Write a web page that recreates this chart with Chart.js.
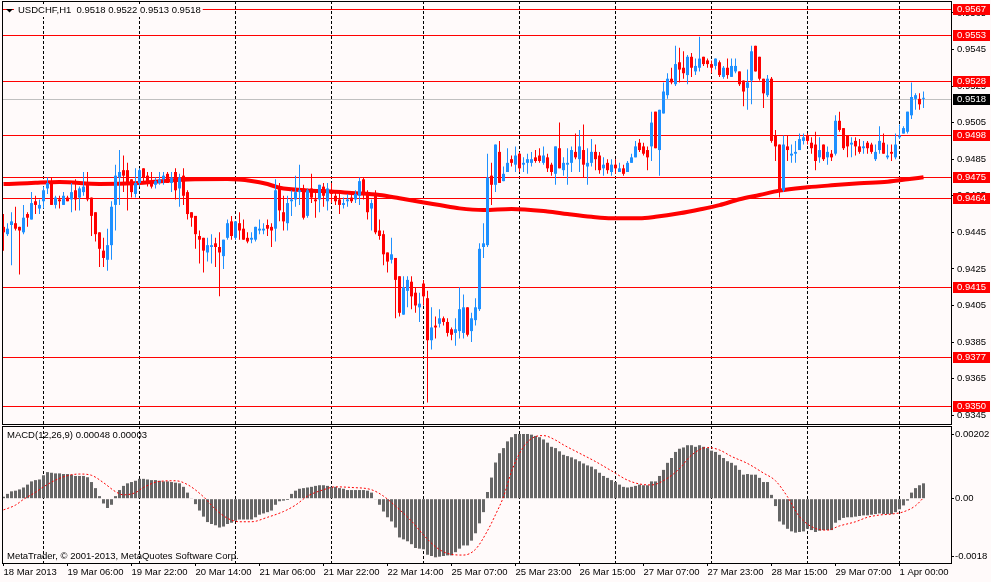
<!DOCTYPE html>
<html>
<head>
<meta charset="utf-8">
<title>USDCHF,H1</title>
<script src="https://cdn.jsdelivr.net/npm/chart.js@4.4.1/dist/chart.umd.min.js"></script>
<style>
  html, body { margin: 0; padding: 0; background: #fffafa; overflow: hidden; }
  #price { position: absolute; left: 0; top: 0; }
  #macd { position: absolute; left: 0; top: 425px; }
</style>
</head>
<body>
<canvas id="price" width="991" height="425"></canvas>
<canvas id="macd" width="991" height="157"></canvas>
<script>
// USDCHF H1, 18 Mar 2013 14:00 .. 1 Apr 06:00, 231 bars

const open = [
  0.9448, 0.9444, 0.9449, 0.9450, 0.9448, 0.9445, 0.9455, 0.9452, 0.9462, 0.9458,
  0.9462, 0.9469, 0.9472, 0.9460, 0.9463, 0.9460, 0.9464, 0.9463, 0.9468, 0.9464,
  0.9467, 0.9472, 0.9464, 0.9456, 0.9445, 0.9435, 0.9430, 0.9438, 0.9460, 0.9475,
  0.9479, 0.9479, 0.9474, 0.9466, 0.9472, 0.9480, 0.9476, 0.9472, 0.9471, 0.9472,
  0.9474, 0.9477, 0.9472, 0.9478, 0.9469, 0.9476, 0.9467, 0.9456, 0.9454, 0.9443,
  0.9442, 0.9434, 0.9437, 0.9439, 0.9437, 0.9432, 0.9442, 0.9451, 0.9442, 0.9450,
  0.9447, 0.9442, 0.9441, 0.9441, 0.9446, 0.9446, 0.9449, 0.9448, 0.9447, 0.9470,
  0.9456, 0.9450, 0.9462, 0.9463, 0.9467, 0.9469, 0.9454, 0.9469, 0.9463, 0.9463,
  0.9470, 0.9462, 0.9468, 0.9465, 0.9463, 0.9460, 0.9462, 0.9464, 0.9463, 0.9465,
  0.9474, 0.9466, 0.9458, 0.9466, 0.9446, 0.9444, 0.9434, 0.9430, 0.9431, 0.9421,
  0.9400, 0.9413, 0.9418, 0.9412, 0.9404, 0.9417, 0.9409, 0.9386, 0.9394, 0.9395,
  0.9398, 0.9396, 0.9392, 0.9390, 0.9391, 0.9390, 0.9404, 0.9391, 0.9397, 0.9403,
  0.9437, 0.9438, 0.9476, 0.9471, 0.9489, 0.9473, 0.9478, 0.9485, 0.9482, 0.9488,
  0.9482, 0.9483, 0.9483, 0.9486, 0.9487, 0.9483, 0.9486, 0.9482, 0.9477, 0.9491,
  0.9479, 0.9482, 0.9483, 0.9489, 0.9485, 0.9490, 0.9481, 0.9483, 0.9489, 0.9487,
  0.9480, 0.9483, 0.9478, 0.9482, 0.9478, 0.9480, 0.9478, 0.9483, 0.9486, 0.9494,
  0.9492, 0.9490, 0.9492, 0.9511, 0.9490, 0.9510, 0.9520, 0.9529, 0.9526, 0.9538,
  0.9535, 0.9531, 0.9541, 0.9533, 0.9535, 0.9541, 0.9539, 0.9537, 0.9536, 0.9538,
  0.9530, 0.9535, 0.9530, 0.9533, 0.9533, 0.9528, 0.9524, 0.9528, 0.9547, 0.9541,
  0.9529, 0.9520, 0.9529, 0.9498, 0.9493, 0.9468, 0.9492, 0.9487, 0.9488, 0.9490,
  0.9495, 0.9498, 0.9494, 0.9493, 0.9486, 0.9493, 0.9486, 0.9488, 0.9488, 0.9506,
  0.9502, 0.9498, 0.9493, 0.9495, 0.9492, 0.9491, 0.9494, 0.9493, 0.9485, 0.9490,
  0.9494, 0.9486, 0.9489, 0.9486, 0.9497, 0.9499, 0.9500, 0.9509, 0.9518, 0.9518,
  0.9518
];
const high = [
  0.9455, 0.9450, 0.9456, 0.9459, 0.9448, 0.9460, 0.9456, 0.9467, 0.9465, 0.9463,
  0.9470, 0.9475, 0.9475, 0.9465, 0.9465, 0.9467, 0.9465, 0.9472, 0.9474, 0.9470,
  0.9478, 0.9478, 0.9464, 0.9456, 0.9445, 0.9442, 0.9447, 0.9462, 0.9482, 0.9490,
  0.9487, 0.9483, 0.9474, 0.9480, 0.9480, 0.9480, 0.9478, 0.9478, 0.9475, 0.9478,
  0.9478, 0.9478, 0.9478, 0.9480, 0.9477, 0.9480, 0.9468, 0.9456, 0.9454, 0.9446,
  0.9442, 0.9442, 0.9444, 0.9442, 0.9445, 0.9441, 0.9452, 0.9454, 0.9451, 0.9456,
  0.9452, 0.9445, 0.9445, 0.9448, 0.9452, 0.9450, 0.9452, 0.9450, 0.9474, 0.9472,
  0.9465, 0.9465, 0.9468, 0.9476, 0.9482, 0.9471, 0.9469, 0.9477, 0.9468, 0.9471,
  0.9472, 0.9472, 0.9472, 0.9468, 0.9466, 0.9464, 0.9466, 0.9466, 0.9468, 0.9475,
  0.9475, 0.9468, 0.9463, 0.9468, 0.9452, 0.9446, 0.9434, 0.9442, 0.9431, 0.9421,
  0.9421, 0.9421, 0.9421, 0.9415, 0.9412, 0.9419, 0.9413, 0.9404, 0.9399, 0.9403,
  0.9399, 0.9398, 0.9393, 0.9398, 0.9415, 0.9411, 0.9404, 0.9401, 0.9409, 0.9439,
  0.9450, 0.9488, 0.9483, 0.9493, 0.9495, 0.9481, 0.9491, 0.9487, 0.9492, 0.9489,
  0.9486, 0.9488, 0.9489, 0.9490, 0.9491, 0.9492, 0.9488, 0.9483, 0.9492, 0.9505,
  0.9486, 0.9491, 0.9492, 0.9499, 0.9501, 0.9504, 0.9491, 0.9496, 0.9493, 0.9489,
  0.9486, 0.9485, 0.9485, 0.9485, 0.9483, 0.9482, 0.9484, 0.9488, 0.9495, 0.9496,
  0.9494, 0.9492, 0.9511, 0.9511, 0.9512, 0.9527, 0.9532, 0.9535, 0.9547, 0.9546,
  0.9544, 0.9542, 0.9543, 0.9540, 0.9552, 0.9541, 0.9540, 0.9539, 0.9540, 0.9539,
  0.9536, 0.9540, 0.9540, 0.9540, 0.9533, 0.9528, 0.9534, 0.9547, 0.9547, 0.9541,
  0.9529, 0.9531, 0.9530, 0.9501, 0.9493, 0.9498, 0.9498, 0.9493, 0.9495, 0.9499,
  0.9499, 0.9499, 0.9497, 0.9500, 0.9497, 0.9493, 0.9492, 0.9490, 0.9509, 0.9511,
  0.9502, 0.9498, 0.9497, 0.9497, 0.9496, 0.9495, 0.9495, 0.9494, 0.9493, 0.9503,
  0.9499, 0.9493, 0.9493, 0.9499, 0.9504, 0.9503, 0.9511, 0.9527, 0.9521, 0.9521,
  0.9522
];
const low = [
  0.9435, 0.9443, 0.9427, 0.9446, 0.9422, 0.9444, 0.9448, 0.9452, 0.9455, 0.9455,
  0.9458, 0.9466, 0.9460, 0.9458, 0.9458, 0.9460, 0.9462, 0.9456, 0.9457, 0.9457,
  0.9465, 0.9462, 0.9443, 0.9440, 0.9426, 0.9426, 0.9424, 0.9430, 0.9446, 0.9460,
  0.9467, 0.9457, 0.9464, 0.9464, 0.9470, 0.9472, 0.9470, 0.9469, 0.9469, 0.9471,
  0.9471, 0.9472, 0.9467, 0.9463, 0.9459, 0.9460, 0.9452, 0.9448, 0.9436, 0.9428,
  0.9423, 0.9429, 0.9428, 0.9426, 0.9410, 0.9425, 0.9441, 0.9441, 0.9441, 0.9441,
  0.9441, 0.9439, 0.9439, 0.9440, 0.9444, 0.9444, 0.9443, 0.9437, 0.9440, 0.9451,
  0.9446, 0.9446, 0.9454, 0.9459, 0.9460, 0.9452, 0.9453, 0.9461, 0.9453, 0.9456,
  0.9459, 0.9457, 0.9461, 0.9460, 0.9455, 0.9458, 0.9459, 0.9461, 0.9461, 0.9460,
  0.9463, 0.9452, 0.9446, 0.9444, 0.9441, 0.9427, 0.9423, 0.9428, 0.9398, 0.9399,
  0.9400, 0.9404, 0.9403, 0.9401, 0.9396, 0.9405, 0.9352, 0.9381, 0.9387, 0.9393,
  0.9394, 0.9388, 0.9386, 0.9383, 0.9387, 0.9387, 0.9388, 0.9385, 0.9394, 0.9402,
  0.9431, 0.9437, 0.9460, 0.9467, 0.9472, 0.9473, 0.9478, 0.9481, 0.9478, 0.9478,
  0.9478, 0.9477, 0.9481, 0.9483, 0.9483, 0.9482, 0.9478, 0.9476, 0.9471, 0.9480,
  0.9476, 0.9471, 0.9478, 0.9485, 0.9478, 0.9475, 0.9471, 0.9481, 0.9479, 0.9477,
  0.9476, 0.9477, 0.9476, 0.9477, 0.9478, 0.9476, 0.9478, 0.9483, 0.9486, 0.9489,
  0.9487, 0.9479, 0.9484, 0.9491, 0.9476, 0.9510, 0.9518, 0.9526, 0.9525, 0.9527,
  0.9529, 0.9526, 0.9530, 0.9531, 0.9533, 0.9536, 0.9535, 0.9532, 0.9534, 0.9530,
  0.9529, 0.9529, 0.9530, 0.9532, 0.9525, 0.9514, 0.9512, 0.9515, 0.9533, 0.9528,
  0.9513, 0.9519, 0.9494, 0.9484, 0.9464, 0.9467, 0.9484, 0.9483, 0.9483, 0.9490,
  0.9493, 0.9493, 0.9488, 0.9479, 0.9483, 0.9484, 0.9482, 0.9484, 0.9487, 0.9500,
  0.9490, 0.9486, 0.9486, 0.9487, 0.9488, 0.9488, 0.9488, 0.9488, 0.9484, 0.9488,
  0.9488, 0.9485, 0.9484, 0.9485, 0.9496, 0.9499, 0.9499, 0.9507, 0.9512, 0.9512,
  0.9513
];
const close = [
  0.9445, 0.9447, 0.9451, 0.9447, 0.9446, 0.9453, 0.9453, 0.9461, 0.9460, 0.9460,
  0.9468, 0.9472, 0.9460, 0.9464, 0.9462, 0.9465, 0.9462, 0.9467, 0.9463, 0.9469,
  0.9470, 0.9463, 0.9454, 0.9444, 0.9436, 0.9431, 0.9438, 0.9459, 0.9476, 0.9478,
  0.9476, 0.9472, 0.9467, 0.9472, 0.9479, 0.9475, 0.9472, 0.9470, 0.9473, 0.9474,
  0.9476, 0.9472, 0.9475, 0.9468, 0.9475, 0.9465, 0.9455, 0.9453, 0.9444, 0.9441,
  0.9435, 0.9438, 0.9438, 0.9437, 0.9434, 0.9441, 0.9450, 0.9443, 0.9451, 0.9446,
  0.9441, 0.9440, 0.9442, 0.9448, 0.9447, 0.9447, 0.9447, 0.9446, 0.9468, 0.9457,
  0.9451, 0.9461, 0.9463, 0.9467, 0.9468, 0.9453, 0.9468, 0.9464, 0.9462, 0.9471,
  0.9465, 0.9469, 0.9466, 0.9462, 0.9460, 0.9461, 0.9463, 0.9462, 0.9466, 0.9473,
  0.9466, 0.9456, 0.9461, 0.9445, 0.9443, 0.9433, 0.9429, 0.9433, 0.9419, 0.9401,
  0.9415, 0.9419, 0.9410, 0.9405, 0.9406, 0.9410, 0.9386, 0.9393, 0.9393, 0.9398,
  0.9396, 0.9390, 0.9389, 0.9392, 0.9403, 0.9404, 0.9389, 0.9398, 0.9404, 0.9436,
  0.9439, 0.9475, 0.9471, 0.9493, 0.9472, 0.9477, 0.9483, 0.9483, 0.9487, 0.9480,
  0.9483, 0.9485, 0.9485, 0.9484, 0.9484, 0.9487, 0.9480, 0.9478, 0.9492, 0.9480,
  0.9483, 0.9483, 0.9490, 0.9486, 0.9492, 0.9482, 0.9483, 0.9489, 0.9485, 0.9479,
  0.9482, 0.9479, 0.9482, 0.9480, 0.9480, 0.9477, 0.9483, 0.9486, 0.9492, 0.9490,
  0.9488, 0.9486, 0.9505, 0.9491, 0.9512, 0.9522, 0.9529, 0.9527, 0.9537, 0.9534,
  0.9532, 0.9541, 0.9535, 0.9536, 0.9540, 0.9537, 0.9537, 0.9535, 0.9540, 0.9531,
  0.9535, 0.9531, 0.9536, 0.9536, 0.9526, 0.9522, 0.9527, 0.9544, 0.9533, 0.9529,
  0.9521, 0.9529, 0.9495, 0.9492, 0.9468, 0.9493, 0.9490, 0.9488, 0.9489, 0.9496,
  0.9497, 0.9495, 0.9491, 0.9484, 0.9490, 0.9485, 0.9489, 0.9486, 0.9506, 0.9501,
  0.9491, 0.9492, 0.9494, 0.9492, 0.9489, 0.9492, 0.9491, 0.9489, 0.9489, 0.9495,
  0.9488, 0.9487, 0.9488, 0.9493, 0.9498, 0.9502, 0.9511, 0.9519, 0.9520, 0.9515,
  0.9518
];

// moving average, read at a few bars (bar index -> price)
const maIdx = [0, 4, 8, 14, 24, 34, 46, 56, 62, 66, 69, 76, 82, 87, 94, 99, 104, 109, 114, 120,
  127, 136, 141, 147, 152, 159, 163, 169, 174, 179, 184, 189, 194, 201, 207, 214, 221, 226, 230];
const maVal = [0.94714, 0.94717, 0.94721, 0.94725, 0.94715, 0.94720, 0.94739, 0.94741, 0.94731, 0.94714,
  0.94694, 0.94679, 0.94673, 0.94665, 0.94654, 0.94636, 0.94617, 0.94599, 0.94581, 0.94572,
  0.94578, 0.94564, 0.94550, 0.94535, 0.94527, 0.94527, 0.94535, 0.94554, 0.94575, 0.94599,
  0.94631, 0.94654, 0.94678, 0.94696, 0.94707, 0.94718, 0.94727, 0.94740, 0.94751];

// MACD(12,26,9) main line, one value per bar
const macdMain = [
  0.00006, 0.00015, 0.00023, 0.00025, 0.00029, 0.00035, 0.00044, 0.00054, 0.00058, 0.00060,
  0.00073, 0.00083, 0.00081, 0.00079, 0.00079, 0.00077, 0.00077, 0.00075, 0.00071, 0.00071,
  0.00071, 0.00067, 0.00052, 0.00033, 0.00008, -0.00015, -0.00029, -0.00019, 0.00008, 0.00027,
  0.00040, 0.00048, 0.00052, 0.00056, 0.00062, 0.00062, 0.00060, 0.00058, 0.00058, 0.00056,
  0.00054, 0.00054, 0.00052, 0.00050, 0.00048, 0.00037, 0.00019, 0.00002, -0.00017, -0.00037,
  -0.00056, -0.00073, -0.00079, -0.00083, -0.00090, -0.00087, -0.00079, -0.00075, -0.00069, -0.00065,
  -0.00065, -0.00065, -0.00065, -0.00058, -0.00050, -0.00046, -0.00042, -0.00037, -0.00019, -0.00008,
  -0.00006, -0.00004, 0.00015, 0.00025, 0.00031, 0.00033, 0.00035, 0.00037, 0.00040, 0.00042,
  0.00042, 0.00040, 0.00037, 0.00037, 0.00033, 0.00031, 0.00027, 0.00027, 0.00027, 0.00027,
  0.00027, 0.00025, 0.00019, -0.00002, -0.00019, -0.00040, -0.00058, -0.00071, -0.00090, -0.00121,
  -0.00127, -0.00133, -0.00142, -0.00154, -0.00156, -0.00158, -0.00175, -0.00179, -0.00183, -0.00181,
  -0.00179, -0.00177, -0.00177, -0.00167, -0.00156, -0.00146, -0.00146, -0.00131, -0.00108, -0.00077,
  -0.00042, 0.00021, 0.00066, 0.00113, 0.00142, 0.00158, 0.00179, 0.00192, 0.00202, 0.00202,
  0.00202, 0.00202, 0.00200, 0.00196, 0.00192, 0.00185, 0.00175, 0.00162, 0.00158, 0.00148,
  0.00137, 0.00133, 0.00129, 0.00123, 0.00117, 0.00110, 0.00104, 0.00100, 0.00092, 0.00081,
  0.00071, 0.00065, 0.00058, 0.00052, 0.00044, 0.00037, 0.00035, 0.00037, 0.00040, 0.00044,
  0.00042, 0.00042, 0.00054, 0.00054, 0.00071, 0.00090, 0.00112, 0.00127, 0.00146, 0.00156,
  0.00160, 0.00167, 0.00167, 0.00162, 0.00167, 0.00162, 0.00158, 0.00150, 0.00146, 0.00137,
  0.00127, 0.00117, 0.00112, 0.00104, 0.00090, 0.00075, 0.00077, 0.00075, 0.00075, 0.00065,
  0.00052, 0.00052, 0.00012, -0.00023, -0.00071, -0.00081, -0.00094, -0.00102, -0.00106, -0.00104,
  -0.00102, -0.00094, -0.00098, -0.00104, -0.00100, -0.00098, -0.00098, -0.00098, -0.00075, -0.00067,
  -0.00060, -0.00058, -0.00058, -0.00056, -0.00054, -0.00052, -0.00052, -0.00050, -0.00048, -0.00046,
  -0.00048, -0.00048, -0.00048, -0.00042, -0.00033, -0.00021, -0.00006, 0.00019, 0.00033, 0.00042,
  0.00048
];
// signal line, read at a few bars
const sigIdx = [0, 3, 5, 8, 10, 13, 16, 19, 22, 25, 28, 30, 33, 35, 39, 43, 46, 50, 53, 56,
  59, 62, 66, 70, 73, 76, 80, 83, 87, 92, 95, 98, 102, 105, 108, 111, 115, 118, 121, 123,
  125, 127, 130, 133, 135, 138, 140, 144, 148, 152, 156, 159, 162, 166, 169, 172, 176, 179, 182, 186,
  190, 193, 196, 199, 203, 206, 209, 213, 216, 219, 222, 225, 228, 230];
const sigVal = [-0.00035, -0.00020, -0.00002, 0.00020, 0.00037, 0.00058, 0.00072, 0.00077, 0.00073, 0.00050,
  0.00022, 0.00012, 0.00019, 0.00035, 0.00054, 0.00056, 0.00044, 0.00006, -0.00033, -0.00061,
  -0.00072, -0.00072, -0.00058, -0.00040, -0.00020, 0.00008, 0.00028, 0.00037, 0.00035, 0.00028,
  0.00008, -0.00023, -0.00070, -0.00113, -0.00150, -0.00171, -0.00176, -0.00158, -0.00100, -0.00050,
  0.00006, 0.00085, 0.00162, 0.00194, 0.00197, 0.00183, 0.00168, 0.00142, 0.00116, 0.00087,
  0.00058, 0.00046, 0.00043, 0.00064, 0.00094, 0.00136, 0.00160, 0.00152, 0.00132, 0.00110,
  0.00080, 0.00056, 0.00006, -0.00056, -0.00093, -0.00098, -0.00085, -0.00072, -0.00058, -0.00051,
  -0.00048, -0.00041, -0.00022, 0.00003];

// horizontal lines and the bid
const levels = [0.9567, 0.9553, 0.9528, 0.9498, 0.9475, 0.9464, 0.9415, 0.9377, 0.9350];
const bid = 0.9518;

// axes
const priceTicks = [0.9565, 0.9545, 0.9525, 0.9505, 0.9485, 0.9465, 0.9445, 0.9425, 0.9405, 0.9385, 0.9365, 0.9345];
const macdTicks = [0.00202, 0, -0.0018];
const macdTickLabels = ['0.00202', '0.00', '-0.0018'];
const timeTickIdx = [0, 16, 32, 48, 64, 80, 96, 112, 128, 144, 160, 176, 192, 208, 224];
const timeTickLabels = ['18 Mar 2013', '19 Mar 06:00', '19 Mar 22:00', '20 Mar 14:00', '21 Mar 06:00',
  '21 Mar 22:00', '22 Mar 14:00', '25 Mar 07:00', '25 Mar 23:00', '26 Mar 15:00', '27 Mar 07:00',
  '27 Mar 23:00', '28 Mar 15:00', '29 Mar 07:00', '1 Apr 00:00'];
const daySepIdx = [10, 34, 58, 82, 105, 129, 153, 177, 201, 224];

const titleText = 'USDCHF,H1  0.9518 0.9522 0.9513 0.9518';
const macdText = 'MACD(12,26,9) 0.00048 0.00003';
const copyText = 'MetaTrader, \u00a9 2001-2013, MetaQuotes Software Corp.';

// ---- looks ----
const BG = '#fffafa';
const BULL = '#1e90ff';
const BEAR = '#ff0000';
const FAMILY = "'Liberation Sans', Arial, sans-serif";
const FSIZE = 9.5;
const FONT = FSIZE + 'px ' + FAMILY;
const X_MIN = -0.375, X_MAX = 236.875;

Chart.defaults.font.family = FAMILY;
Chart.defaults.font.size = FSIZE;
Chart.defaults.color = '#000';

// 1px horizontal line across the plot, drawn as a filled row so it stays crisp
function hline(ctx, a, py, color) {
  ctx.fillStyle = color;
  ctx.fillRect(a.left, Math.round(py), a.right - a.left, 1);
}

function separators(ctx, a, xs) {
  ctx.save();
  ctx.strokeStyle = '#000';
  ctx.lineWidth = 1;
  ctx.setLineDash([3, 2]);
  ctx.beginPath();
  daySepIdx.forEach(i => {
    const px = Math.floor(xs.getPixelForValue(i)) + 0.5;
    ctx.moveTo(px, a.top);
    ctx.lineTo(px, a.bottom);
  });
  ctx.stroke();
  ctx.restore();
}

function frame(ctx, a) {
  ctx.save();
  ctx.strokeStyle = '#000';
  ctx.lineWidth = 1;
  ctx.setLineDash([]);
  ctx.strokeRect(a.left + 0.5, a.top + 0.5, a.right - a.left, a.bottom - a.top);
  ctx.restore();
}

function axisBox(ctx, a, py, text, fill) {
  const yy = Math.round(py);
  ctx.fillStyle = fill;
  ctx.fillRect(a.right + 2, yy - 5, 37, 11);
  ctx.fillStyle = '#fff';
  ctx.fillText(text, a.right + 6, yy + 0.5);
}

function timeAxis(show) {
  return {
    type: 'linear', min: X_MIN, max: X_MAX, offset: false, display: show,
    afterBuildTicks: s => { s.ticks = timeTickIdx.map(v => ({ value: v })); },
    afterFit: s => { s.height = show ? 19 : 0; s.paddingLeft = 0; s.paddingRight = 0; },
    grid: { offset: false, drawOnChartArea: false, drawTicks: true, tickLength: 3, color: '#000' },
    border: { display: false },
    ticks: { autoSkip: false, maxRotation: 0, minRotation: 0, align: 'start', padding: 1,
      callback: (v, i) => timeTickLabels[i] }
  };
}

const candleColors = close.map((c, i) => c >= open[i] ? BULL : BEAR);

const priceDecor = {
  id: 'priceDecor',
  beforeDatasetsDraw(chart) {
    const { ctx, chartArea: a, scales: { x, y } } = chart;
    separators(ctx, a, x);
    ctx.save();
    hline(ctx, a, y.getPixelForValue(bid), '#c0c0c0');
    levels.forEach(v => hline(ctx, a, y.getPixelForValue(v), '#ff0000'));
    ctx.restore();
  },
  afterDraw(chart) {
    const { ctx, chartArea: a, scales: { y } } = chart;
    frame(ctx, a);
    ctx.save();
    ctx.font = FONT;
    ctx.textBaseline = 'middle';
    ctx.textAlign = 'left';
    levels.forEach(v => axisBox(ctx, a, y.getPixelForValue(v), v.toFixed(4), '#ff0000'));
    axisBox(ctx, a, y.getPixelForValue(bid), bid.toFixed(4), '#000');
    // symbol title, on its own background like the terminal does
    const w = ctx.measureText(titleText).width;
    ctx.fillStyle = BG;
    ctx.fillRect(14, 4, w + 6, 13);
    ctx.fillStyle = '#000';
    ctx.beginPath();
    ctx.moveTo(6, 9); ctx.lineTo(13, 9); ctx.lineTo(9.5, 12.5); ctx.closePath();
    ctx.fill();
    ctx.fillText(titleText, 18, 10.5);
    ctx.restore();
  }
};

const macdDecor = {
  id: 'macdDecor',
  beforeDatasetsDraw(chart) {
    separators(chart.ctx, chart.chartArea, chart.scales.x);
  },
  afterDraw(chart) {
    const { ctx, chartArea: a } = chart;
    frame(ctx, a);
    ctx.save();
    ctx.font = FONT;
    ctx.textBaseline = 'middle';
    ctx.textAlign = 'left';
    ctx.fillStyle = '#000';
    ctx.fillText(macdText, 7, a.top + 9.5);
    ctx.fillText(copyText, 7, a.bottom - 6.5);
    ctx.restore();
  }
};

const common = {
  responsive: false,
  animation: false,
  events: [],
  plugins: { legend: { display: false }, tooltip: { enabled: false } }
};

new Chart(document.getElementById('price'), {
  type: 'bar',
  data: {
    datasets: [
      {
        type: 'bar', order: 0,
        data: close.map((c, i) => ({ x: i, y: [open[i], c] })),
        backgroundColor: candleColors, borderWidth: 0,
        barThickness: 3, minBarLength: 1, grouped: false, inflateAmount: 0
      },
      {
        type: 'bar', order: 1,
        data: high.map((h, i) => ({ x: i, y: [low[i], h] })),
        backgroundColor: candleColors, borderWidth: 0,
        barThickness: 1, minBarLength: 1, grouped: false, inflateAmount: 0
      },
      {
        type: 'line', order: 2,
        data: maIdx.map((k, j) => ({ x: k, y: maVal[j] })),
        borderColor: '#ff0000', borderWidth: 4, pointRadius: 0,
        cubicInterpolationMode: 'monotone', fill: false
      }
    ]
  },
  options: {
    ...common,
    layout: { padding: { left: 2, top: 1, right: 0, bottom: 1 } },
    scales: {
      x: timeAxis(false),
      y: {
        type: 'linear', position: 'right', min: 0.93402, max: 0.95715, beginAtZero: false,
        afterBuildTicks: s => { s.ticks = priceTicks.map(v => ({ value: v })); },
        afterFit: s => { s.width = 40; s.paddingTop = 0; s.paddingBottom = 0; },
        grid: { drawOnChartArea: false, drawTicks: true, tickLength: 3, color: '#000' },
        border: { display: false },
        ticks: { autoSkip: false, padding: 3, callback: v => v.toFixed(4) }
      }
    }
  },
  plugins: [priceDecor]
});

new Chart(document.getElementById('macd'), {
  type: 'bar',
  data: {
    datasets: [
      {
        type: 'bar', order: 1,
        data: macdMain.map((v, i) => ({ x: i, y: v })),
        backgroundColor: '#666666', borderWidth: 0,
        barThickness: 3, grouped: false, inflateAmount: 0
      },
      {
        type: 'line', order: 0,
        data: sigIdx.map((k, j) => ({ x: k, y: sigVal[j] })),
        borderColor: '#ff0000', borderWidth: 1, borderDash: [2, 2], pointRadius: 0,
        cubicInterpolationMode: 'monotone', fill: false
      }
    ]
  },
  options: {
    ...common,
    layout: { padding: { left: 2, top: 1, right: 0, bottom: 0 } },
    scales: {
      x: timeAxis(true),
      y: {
        type: 'linear', position: 'right', min: -0.002008, max: 0.00227, beginAtZero: false,
        afterBuildTicks: s => { s.ticks = macdTicks.map(v => ({ value: v })); },
        afterFit: s => { s.width = 40; s.paddingTop = 0; s.paddingBottom = 0; },
        grid: { drawOnChartArea: false, drawTicks: true, tickLength: 3, color: '#000' },
        border: { display: false },
        ticks: { autoSkip: false, padding: 1, callback: (v, i) => macdTickLabels[i] }
      }
    }
  },
  plugins: [macdDecor]
});
</script>
</body>
</html>
